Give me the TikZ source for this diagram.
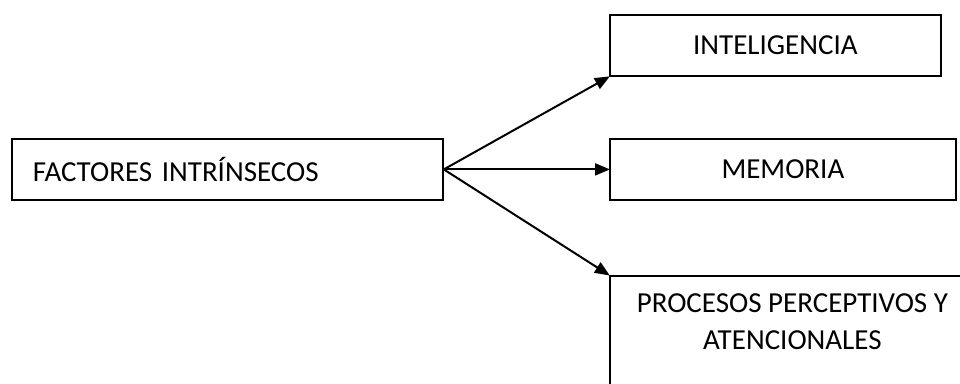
\documentclass[tikz,border=0pt]{standalone}
\usepackage{fontspec}
\setmainfont{Carlito}
\usetikzlibrary{arrows.meta}

\tikzset{
  box/.style={draw, line width=1.8pt, inner sep=0pt},
  arrow/.style={line width=2pt, -{Triangle[length=15pt, width=12pt]}, shorten >=-1pt}
}

\begin{document}
\begin{tikzpicture}[x=1pt, y=-1pt, font=\fontsize{29}{37}\selectfont]
  \useasboundingbox (0, 0) rectangle (960, 383);

  \node [box, anchor=north west, minimum width=431pt, minimum height=61pt,
         text width=389pt, align=left, inner xsep=21pt] (fact) at (11, 138)
         {FACTORES INTRÍNSECOS};

  \node [box, anchor=north west, minimum width=331pt, minimum height=61pt] (intel)
         at (609, 14) {INTELIGENCIA};
  \node [box, anchor=north west, minimum width=346pt, minimum height=61pt] (mem)
         at (609, 138) {MEMORIA};

  % this box runs past the lower and right edges
  \node [box, anchor=north west, minimum width=365pt, minimum height=150pt] (proc)
         at (609, 275) {};
  \node [align=center, anchor=north, inner sep=0pt] (proctext) at ([yshift=-18pt]proc.north)
         {PROCESOS PERCEPTIVOS Y\\ATENCIONALES};

  \draw [arrow] (fact.east) -- (intel.south west);
  \draw [arrow] (fact.east) -- (mem.west);
  \draw [arrow] (fact.east) -- (proc.north west);
\end{tikzpicture}
\end{document}
